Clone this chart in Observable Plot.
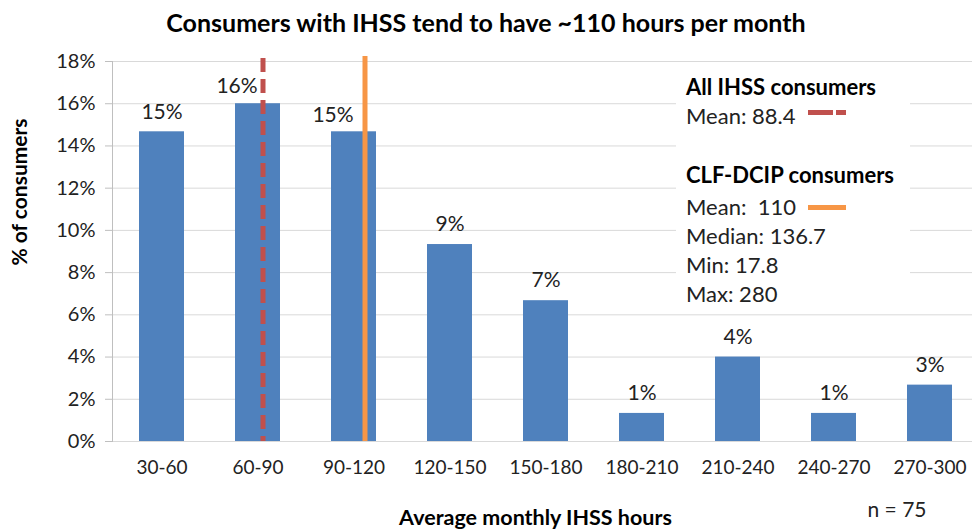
<!DOCTYPE html>
<html><head><meta charset="utf-8">
<script src="https://cdn.jsdelivr.net/npm/d3@7"></script>
<script src="https://cdn.jsdelivr.net/npm/@observablehq/plot@0.6"></script>
<style>
html,body{margin:0;padding:0;background:#fff;}
#wrap{position:relative;width:972px;height:529px;overflow:hidden;font-family:Lato,"Open Sans",sans-serif;color:#000;}
#title{height:44px;line-height:44px;text-align:center;font-weight:bold;font-size:25px;white-space:nowrap;}
#legend{position:absolute;left:676px;top:70px;width:234px;height:238px;background:#fff;}
#legend div.l{position:absolute;left:10px;font-size:22px;line-height:24px;white-space:nowrap;color:#222;}
#legend div.b{font-weight:bold;color:#000;}
#legend div.sw{position:absolute;height:5px;}
</style></head>
<body><div id="wrap"><div id="title"></div><div id="chart"></div><div id="legend"></div></div>
<script>
const title = "Consumers with IHSS tend to have ~110 hours per month";
const categories = ["30-60","60-90","90-120","120-150","150-180","180-210","210-240","240-270","270-300"];
const shares = [0.1467, 0.16, 0.1467, 0.0933, 0.0667, 0.0133, 0.04, 0.0133, 0.0267];
const yTicks = [0, 0.02, 0.04, 0.06, 0.08, 0.10, 0.12, 0.14, 0.16, 0.18];
const shiftedLabelCats = ["60-90", "90-120"];
const groupNames = ["All IHSS consumers", "CLF-DCIP consumers"];
const groupMeans = [88.4, 110];
const groupMeanCats = ["60-90", "90-120"];
const clfStats = ["Median: 136.7", "Min: 17.8", "Max: 280"];
const xTitle = "Average monthly IHSS hours";
const yTitle = "% of consumers";
const note = "n = 75";

const RED = "#c0504d", ORANGE = "#f79646", BLUE = "#4f81bd";
const data = categories.map((c, i) => ({cat: c, pct: shares[i]}));
const fmt = d3.format(".0%");

document.getElementById("title").textContent = title;

const chart = Plot.plot({
  width: 972, height: 485,
  marginLeft: 112, marginRight: 0, marginTop: 17, marginBottom: 88,
  style: {fontFamily: "Lato, 'Open Sans', sans-serif", fontSize: "20px", color: "#222", background: "#fff"},
  x: {type: "band", domain: categories, range: [112, 980], paddingInner: 0.53, paddingOuter: 0.265, align: 0.5},
  y: {domain: [0, 0.18]},
  marks: [
    Plot.gridY(yTicks, {stroke: "#d9d9d9", strokeOpacity: 1}),
    Plot.frame({anchor: "left", stroke: "#bfbfbf", strokeOpacity: 1}),
    Plot.axisY(yTicks, {tickFormat: fmt, tickSize: 7, tickPadding: 10, stroke: "#bfbfbf", label: null, fontSize: 20}),
    Plot.axisX({tickSize: 0, tickPadding: 19, label: null, fontSize: 19}),
    Plot.barY(data, {x: "cat", y: "pct", fill: BLUE}),
    Plot.text(data.filter(d => !shiftedLabelCats.includes(d.cat)), {x: "cat", y: "pct", text: d => fmt(d.pct), dy: -20, fontSize: 21, fill: "#222"}),
    Plot.text(data.filter(d => shiftedLabelCats.includes(d.cat)), {x: "cat", y: "pct", text: d => fmt(d.pct), dy: -17, dx: -21, fontSize: 21, fill: "#222"}),
    Plot.ruleX([groupMeanCats[0]], {x: d => d, dx: 5, stroke: RED, strokeWidth: 5, strokeDasharray: "14 7", insetTop: -3}),
    Plot.ruleX([groupMeanCats[1]], {x: d => d, dx: 11, stroke: ORANGE, strokeWidth: 5, insetTop: -5}),
    Plot.text([yTitle], {frameAnchor: "left", text: d => d, rotate: -90, dx: -92, dy: 14, fontWeight: "bold", fontSize: 21, fill: "#000"}),
    Plot.text([xTitle], {frameAnchor: "bottom", text: d => d, dx: -7, dy: 83, fontWeight: "bold", fontSize: 21.5, fill: "#000"}),
    Plot.text([note], {frameAnchor: "bottom-right", text: d => d, dx: -46, dy: 75, fontSize: 21, fill: "#222"})
  ]
});
document.getElementById("chart").appendChild(chart);

// legend (annotation box)
const legend = document.getElementById("legend");
function line(text, centerY, bold) {
  const d = document.createElement("div");
  d.className = "l" + (bold ? " b" : "");
  d.style.top = (centerY - 70 - 12) + "px";
  d.textContent = text;
  legend.appendChild(d);
  return d;
}
function swatch(centerY, color, dashed) {
  const s = document.createElement("div");
  s.className = "sw";
  s.style.left = (808 - 676) + "px";
  s.style.top = (centerY - 70 - 2.5) + "px";
  s.style.width = "38px";
  s.style.background = dashed ? `linear-gradient(to right, ${color} 0 25px, transparent 25px 28px, ${color} 28px 38px)` : color;
  legend.appendChild(s);
}
line(groupNames[0], 87, true);
line("Mean: " + groupMeans[0], 116, false);
swatch(112, RED, true);
line(groupNames[1], 175, true);
line("Mean:\u00a0 " + groupMeans[1], 207, false);
swatch(207, ORANGE, false);
clfStats.forEach((t, i) => line(t, [236, 265, 294][i], false));
</script></body></html>
